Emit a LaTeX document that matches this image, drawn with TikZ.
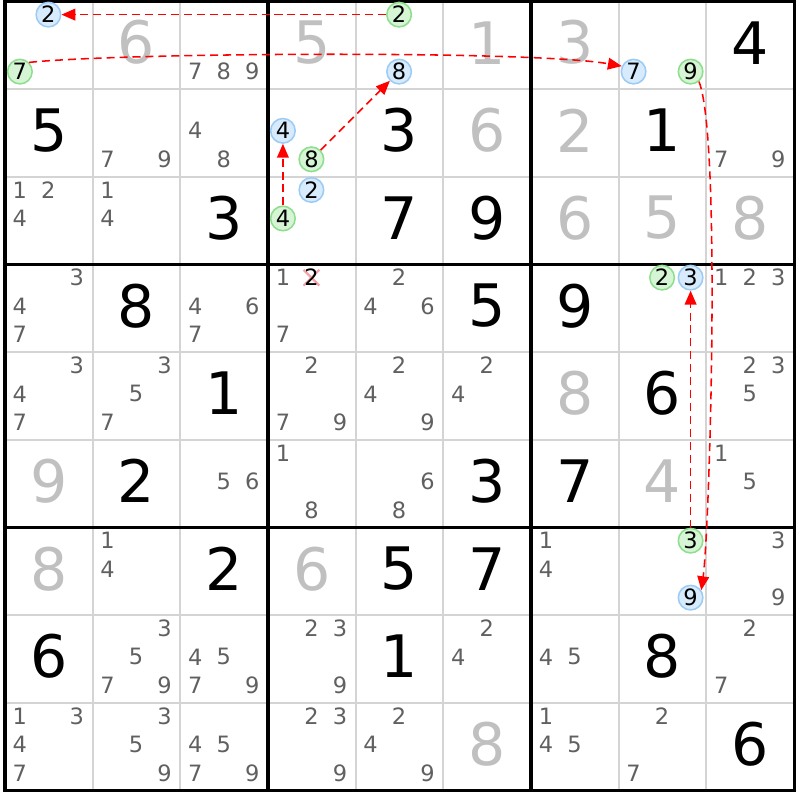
\documentclass[tikz,border=0pt]{standalone}
\usepackage{fontspec}
\setmainfont{DejaVu Sans}
\usetikzlibrary{arrows.meta}

\definecolor{candgray}{HTML}{606060}
\definecolor{cluegray}{HTML}{C0C0C0}
\definecolor{gridgray}{HTML}{D4D4D4}
\definecolor{bluefill}{HTML}{D7EBFC}
\definecolor{bluedraw}{HTML}{9CCBF5}
\definecolor{greenfill}{HTML}{D5F5D5}
\definecolor{greendraw}{HTML}{8EDE8E}
\definecolor{crossred}{HTML}{F5A3AB}

\tikzset{
  cand/.style={font=\fontsize{7.3}{7.3}\selectfont, text=candgray, inner sep=0pt},
  given/.style={font=\fontsize{19}{19}\selectfont, text=black, inner sep=0pt},
  clue/.style={font=\fontsize{19}{19}\selectfont, text=cluegray, inner sep=0pt},
  bluecand/.style={circle, draw=bluedraw, fill=bluefill, line width=0.5pt,
    minimum size=0.28cm, inner sep=0pt, font=\fontsize{7.3}{7.3}\selectfont},
  greencand/.style={circle, draw=greendraw, fill=greenfill, line width=0.5pt,
    minimum size=0.28cm, inner sep=0pt, font=\fontsize{7.3}{7.3}\selectfont},
  link/.style={red, dash pattern=on 2.6pt off 1.6pt, line width=0.5pt,
    -{Triangle[length=4.5pt,width=3.8pt]}},
}

% small candidates of one cell: row, column, digits
\newcommand\cands[3]{%
  \foreach \k in {#3}{
    \pgfmathsetmacro\cx{#2-1+0.17+0.325*mod(\k-1,3)}
    \pgfmathsetmacro\cy{10-#1-0.15-0.325*floor((\k-1)/3)}
    \node[cand] (r#1c#2n\k) at (\cx,\cy) {\k};
  }}
% one marked candidate: name, row, column, digit, style
\newcommand\pick[5]{%
  \pgfmathsetmacro\cx{#3-1+0.17+0.325*mod(#4-1,3)}
  \pgfmathsetmacro\cy{10-#2-0.15-0.325*floor((#4-1)/3)}
  \node[#5] (#1) at (\cx,\cy) {#4};}

\begin{document}
\begin{tikzpicture}
\fill[white] (-0.057,-0.108) rectangle (9.068,9.017);
\useasboundingbox (-0.057,-0.108) rectangle (9.068,9.017);

% grid
\foreach \i in {1,2,4,5,7,8} {
  \draw[gridgray, line width=0.65pt] (\i,0) -- (\i,9);
  \draw[gridgray, line width=0.65pt] (0,\i) -- (9,\i);
}
\foreach \i in {0,3,6,9} {
  \draw[line width=1pt] (\i,-0.016) -- (\i,9.016);
  \draw[line width=1pt] (-0.016,\i) -- (9.016,\i);
}

% solved digits
\foreach \r/\c/\d in {1/9/4, 2/1/5, 2/5/3, 2/8/1, 3/3/3, 3/5/7, 3/6/9,
    4/2/8, 4/6/5, 4/7/9, 5/3/1, 5/8/6, 6/2/2, 6/6/3, 6/7/7,
    7/3/2, 7/5/5, 7/6/7, 8/1/6, 8/5/1, 8/8/8, 9/9/6}
  \node[given] (d\r\c) at (\c-0.5, 9.53-\r) {\d};
\foreach \r/\c/\d in {1/2/6, 1/4/5, 1/6/1, 1/7/3, 2/6/6, 2/7/2, 3/7/6,
    3/8/5, 3/9/8, 5/7/8, 6/1/9, 6/8/4, 7/1/8, 7/4/6, 9/6/8}
  \node[clue] (d\r\c) at (\c-0.5, 9.53-\r) {\d};

% candidates
\cands{1}{3}{7,8,9}
\cands{2}{2}{7,9} \cands{2}{3}{4,8} \cands{2}{9}{7,9}
\cands{3}{1}{1,2,4} \cands{3}{2}{1,4}
\cands{4}{1}{3,4,7} \cands{4}{3}{4,6,7} \cands{4}{4}{1,7}
\cands{4}{5}{2,4,6} \cands{4}{9}{1,2,3}
\cands{5}{1}{3,4,7} \cands{5}{2}{3,5,7} \cands{5}{4}{2,7,9}
\cands{5}{5}{2,4,9} \cands{5}{6}{2,4} \cands{5}{9}{2,3,5}
\cands{6}{3}{5,6} \cands{6}{4}{1,8} \cands{6}{5}{6,8} \cands{6}{9}{1,5}
\cands{7}{2}{1,4} \cands{7}{7}{1,4} \cands{7}{9}{3,9}
\cands{8}{2}{3,5,7,9} \cands{8}{3}{4,5,7,9} \cands{8}{4}{2,3,9}
\cands{8}{6}{2,4} \cands{8}{7}{4,5} \cands{8}{9}{2,7}
\cands{9}{1}{1,3,4,7} \cands{9}{2}{3,5,9} \cands{9}{3}{4,5,7,9}
\cands{9}{4}{2,3,9} \cands{9}{5}{2,4,9} \cands{9}{7}{1,4,5} \cands{9}{8}{2,7}

% removed candidate
\coordinate (gone) at (3.495,5.85);
\draw[crossred, line width=0.7pt] (gone) ++(-0.09,0.09) -- ++(0.18,-0.18);
\draw[crossred, line width=0.7pt] (gone) ++(-0.09,-0.09) -- ++(0.18,0.18);
\node[cand, text=black] (r4c4n2) at (gone) {2};

% chain
\pick{a2}{1}{1}{2}{bluecand}
\pick{g7}{1}{1}{7}{greencand}
\pick{g2}{1}{5}{2}{greencand}
\pick{b8}{1}{5}{8}{bluecand}
\pick{b7}{1}{8}{7}{bluecand}
\pick{g9}{1}{8}{9}{greencand}
\pick{b4}{2}{4}{4}{bluecand}
\pick{g8}{2}{4}{8}{greencand}
\pick{b2}{3}{4}{2}{bluecand}
\pick{g4}{3}{4}{4}{greencand}
\pick{c2}{4}{8}{2}{greencand}
\pick{b3}{4}{8}{3}{bluecand}
\pick{g3}{7}{8}{3}{greencand}
\pick{b9}{7}{8}{9}{bluecand}

\draw[link] (g2) -- (a2);
\draw[link] (g7.45) to[out=6, in=170, looseness=0.4] (b7.155);
\draw[link] (g4) -- (b4);
\draw[link] (g8) -- (b8);
\draw[link] (g9.-50) to[out=-68, in=82, looseness=0.3] (b9.35);
\draw[link] (g3) -- (b3);
\end{tikzpicture}
\end{document}
